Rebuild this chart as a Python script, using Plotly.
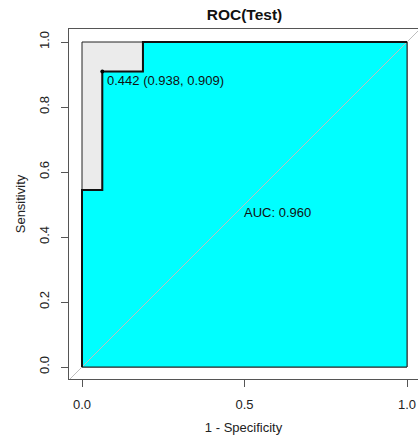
import plotly.graph_objects as go

# ROC curve data (1 - specificity, sensitivity)
fpr = [0, 0, 0.0625, 0.0625, 0.1875, 0.1875, 1]
tpr = [0, 0.545, 0.545, 0.909, 0.909, 1, 1]
thr_label = "0.442 (0.938, 0.909)"
thr_point = (0.0625, 0.909)
auc_label = "AUC: 0.960"
x_ticks = [0, 0.5, 1]
x_ticktext = ["0.0", "0.5", "1.0"]
y_ticks = [0, 0.2, 0.4, 0.6, 0.8, 1.0]
y_ticktext = ["0.0", "0.2", "0.4", "0.6", "0.8", "1.0"]

FONT = "Liberation Sans, Arial, sans-serif"
W, H = 418, 436
ML, MT, MB = 69, 29, 57

fig = go.Figure()
# max AUC polygon (grey)
fig.add_trace(go.Scatter(x=[0, 0, 1, 1, 0], y=[0, 1, 1, 0, 0], mode="lines",
                         fill="toself", fillcolor="#EBEBEB",
                         line=dict(color="#222222", width=1), hoverinfo="skip"))
# AUC polygon (cyan)
fig.add_trace(go.Scatter(x=fpr + [1, 0], y=tpr + [0, 0], mode="lines",
                         fill="toself", fillcolor="#00FFFF",
                         line=dict(color="#222222", width=1), hoverinfo="skip"))
# diagonal
fig.add_trace(go.Scatter(x=[-0.1, 1.1], y=[-0.1, 1.1], mode="lines",
                         line=dict(color="#BEBEBE", width=1), hoverinfo="skip"))
# ROC curve
fig.add_trace(go.Scatter(x=fpr, y=tpr, mode="lines",
                         line=dict(color="#111111", width=2), hoverinfo="skip"))
# threshold point
fig.add_trace(go.Scatter(x=[thr_point[0]], y=[thr_point[1]], mode="markers",
                         marker=dict(color="#000000", size=4), hoverinfo="skip"))

fig.add_annotation(x=thr_point[0], y=thr_point[1], text=thr_label, showarrow=False,
                   xanchor="left", yanchor="middle", xshift=3, yshift=-9,
                   font=dict(family=FONT, size=13, color="#111111"))
fig.add_annotation(x=0.5, y=0.5, text=auc_label, showarrow=False,
                   xanchor="left", yanchor="top", xshift=-3, yshift=2,
                   font=dict(family=FONT, size=13, color="#111111"))

fig.update_layout(
    width=W, height=H,
    margin=dict(l=ML, r=0, t=MT, b=MB),
    plot_bgcolor="white", paper_bgcolor="white",
    showlegend=False,
    title=dict(text="<b>ROC(Test)</b>", x=(ML + 351 / 2) / W, xanchor="center",
               y=1 - 15 / H, yanchor="middle", yref="container",
               font=dict(family=FONT, size=15.5, color="#111111")),
    font=dict(family=FONT, size=13, color="#222222"),
)

fig.update_xaxes(range=[-0.04, -0.04 + (W - ML) / 325], tickvals=x_ticks, ticktext=x_ticktext,
                 showgrid=False, zeroline=False, showline=True, mirror=True,
                 linecolor="#555555", linewidth=1, ticks="outside", ticklen=7,
                 tickcolor="#555555", ticklabelstandoff=6,
                 tickfont=dict(family=FONT, size=13, color="#222222"),
                 title=dict(text="1 - Specificity", standoff=12,
                            font=dict(family=FONT, size=13, color="#222222")))
fig.update_yaxes(range=[-12 / 325, 1 + 13 / 325], tickvals=y_ticks, ticktext=y_ticktext,
                 showgrid=False, zeroline=False, showline=True, mirror=False,
                 linecolor="#555555", linewidth=1, ticks="outside", ticklen=7,
                 tickcolor="#555555", tickangle=-90, ticklabelstandoff=7,
                 tickfont=dict(family=FONT, size=13, color="#222222"),
                 title=dict(text="Sensitivity", standoff=8,
                            font=dict(family=FONT, size=13, color="#222222")))

fig.write_html("out.html", config={"displayModeBar": False},
               post_script="document.body.style.margin='0';document.body.style.overflow='hidden';")
